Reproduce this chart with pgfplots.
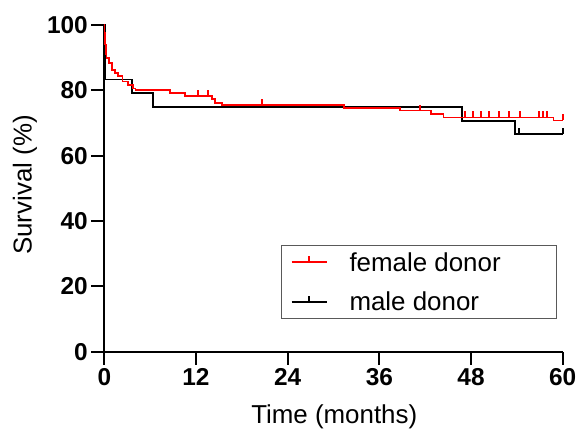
\documentclass[border=0pt]{standalone}
\usepackage{fontspec}
\setmainfont{Liberation Sans}
\usepackage{pgfplots}
\pgfplotsset{compat=1.18}
\pgfdeclareplotmark{uptick}{\pgfpathmoveto{\pgfpoint{0pt}{0pt}}\pgfpathlineto{\pgfpoint{0pt}{\pgfplotmarksize}}\pgfusepathqstroke}
\definecolor{kmred}{RGB}{255,0,0}
\begin{document}
\begin{tikzpicture}
\useasboundingbox (-104.3bp,-86.3bp) rectangle (473.7bp,351.7bp);
\begin{axis}[
  at={(0,0)}, anchor=south west,
  width=458.4bp, height=326.7bp, scale only axis,
  xmin=0, xmax=60, ymin=0, ymax=100, enlargelimits=false,
  axis lines=left,
  axis line style={line width=2bp, -},
  xtick={0,12,...,60}, ytick={0,20,...,100},
  tick align=outside, major tick length=13bp,
  tick style={line width=2bp, black},
  /pgf/number format/assume math mode=true,
  ticklabel style={font=\fontsize{24.5}{24.5}\selectfont\bfseries},
  clip=false,
  legend style={at={(0.9876,0.0992)}, anchor=south east,
    draw=gray!70!black, line width=1bp,
    font=\fontsize{26}{30}\selectfont, row sep=15bp, column sep=20bp,
    inner xsep=9bp, inner ysep=5bp},
  legend cell align=left,
]
\addlegendimage{legend image code/.code={\draw[kmred, line width=2bp] (0bp,0bp) -- (35bp,0bp); \draw[kmred, line width=2bp] (17.5bp,0bp) -- (17.5bp,6bp);}}
\addlegendentry{\makebox[196bp][l]{female donor}}
\addlegendimage{legend image code/.code={\draw[black, line width=2bp] (0bp,0bp) -- (35bp,0bp); \draw[black, line width=2bp] (17.5bp,0bp) -- (17.5bp,6bp);}}
\addlegendentry{\makebox[196bp][l]{male donor}}

\addplot[const plot, black, line width=1.7bp, forget plot] coordinates {
(0,100) (0.1,83.3) (3.6,79.2) (6.4,75.0) (46.8,70.6) (53.8,66.7) (60,66.7)};
\addplot[only marks, mark=uptick, mark size=6bp, black, line width=2bp, forget plot] coordinates {
(54.3,66.7) (60,66.7)};

\addplot[const plot, kmred, line width=1.7bp, forget plot] coordinates {
(0,100) (0.03,97.5) (0.08,95.5) (0.12,94) (0.18,92.5) (0.25,91) (0.3,89.8)
(0.6,88.3) (1.0,86.2) (1.4,85.4) (1.8,84.4) (2.4,82.7) (3.1,81.7) (3.8,80.6)
(4.1,80.0) (8.6,79.1) (10.6,78.3) (14.1,77.3) (14.5,76.2) (15.4,75.6)
(31.4,74.7) (38.7,73.8) (42.8,72.8) (44.4,71.7) (58.8,70.8) (60,70.8)};
\addplot[only marks, mark=uptick, mark size=6bp, kmred, line width=2bp, forget plot] coordinates {
(12.2,78.3) (13.6,78.3) (20.7,75.6) (41.3,73.8) (47.2,71.7) (48.3,71.7)
(49.3,71.7) (50.3,71.7) (51.6,71.7) (53.0,71.7) (54.4,71.7) (56.9,71.7)
(57.4,71.7) (57.9,71.7) (60,70.8)};

\node[anchor=base, font=\fontsize{26}{30}\selectfont] at ([yshift=-71.6bp]axis cs:30.1,0) {Time (months)};
\node[anchor=base, rotate=90, font=\fontsize{26}{30}\selectfont] at ([xshift=-72.6bp]axis cs:0,51) {Survival (\%)};
\end{axis}
\end{tikzpicture}
\end{document}
